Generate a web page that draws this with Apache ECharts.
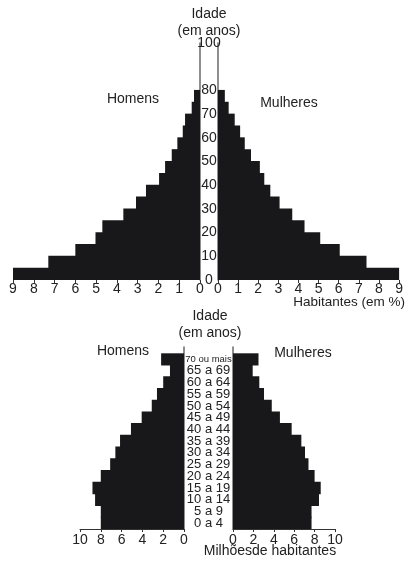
<!DOCTYPE html>
<html>
<head>
<meta charset="utf-8">
<script src="https://cdn.jsdelivr.net/npm/echarts@6.0.0/dist/echarts.min.js"></script>
<style>
  html, body { margin: 0; padding: 0; background: #fff; }
  #chart-container { width: 406px; height: 563px; }
</style>
</head>
<body>
<div id="chart-container"></div>
<script>
// top pyramid: % of inhabitants per 5-year age group (0-4 ... 95-99)
const topAges = ['0-4', '5-9', '10-14', '15-19', '20-24', '25-29', '30-34', '35-39', '40-44', '45-49',
  '50-54', '55-59', '60-64', '65-69', '70-74', '75-79', '80-84', '85-89', '90-94', '95-99'];
const topMen = [9.0, 7.3, 6.0, 5.03, 4.7, 3.69, 3.08, 2.6, 1.97, 1.68,
  1.36, 1.09, 0.83, 0.72, 0.4, 0.29, 0, 0, 0, 0];
const topWomen = [9.0, 7.38, 6.05, 5.08, 4.3, 3.69, 3.06, 2.6, 2.3, 2.08,
  1.64, 1.33, 1.1, 0.83, 0.53, 0.34, 0, 0, 0, 0];
const topTicksX = [0, 1, 2, 3, 4, 5, 6, 7, 8, 9];
const topAgeLabels = [0, 10, 20, 30, 40, 50, 60, 70, 80, 100];

// bottom pyramid: millions of inhabitants
const bottomAges = ['0 a 4', '5 a 9', '10 a 14', '15 a 19', '20 a 24', '25 a 29', '30 a 34', '35 a 39',
  '40 a 44', '45 a 49', '50 a 54', '55 a 59', '60 a 64', '65 a 69', '70 ou mais'];
const bottomMen = [8.0, 8.0, 8.55, 8.8, 8.0, 7.1, 6.6, 6.15, 5.1, 4.07, 3.1, 2.6, 2.0, 1.35, 2.2];
const bottomWomen = [7.7, 7.7, 8.43, 8.6, 8.0, 7.4, 7.06, 6.7, 5.75, 4.6, 3.8, 3.04, 2.58, 1.93, 2.5];

const FONT = 'Liberation Sans, Arial, Helvetica, sans-serif';
const TXT = '#222';
const BAR = '#18181a';
const LINE = '#6a6a6a';

const chart = echarts.init(document.getElementById('chart-container'));

function pctAxis(gridIndex, inverse) {
  return {
    type: 'value', gridIndex, min: 0, max: 9, interval: 1, inverse,
    axisLine: { show: false },
    axisTick: { show: true, length: 3, lineStyle: { color: '#333' } },
    splitLine: { show: false },
    axisLabel: {
      margin: 2, fontSize: 14, color: TXT, fontFamily: FONT,
      formatter: v => (topTicksX.includes(v) ? String(v) : '')
    }
  };
}

function milAxis(gridIndex, inverse) {
  return {
    type: 'value', gridIndex, min: 0, max: 10, interval: 2, inverse,
    axisLine: { show: true, lineStyle: { color: '#333', width: 1 } },
    axisTick: { show: true, length: 3, lineStyle: { color: '#333' } },
    splitLine: { show: false },
    axisLabel: { margin: 4, fontSize: 14, color: TXT, fontFamily: FONT }
  };
}

const hiddenCat = (gridIndex, data) => ({
  type: 'category', gridIndex, data, show: false, splitLine: { show: false }
});

// bars slightly wider than the band so neighbouring bars overlap and no seam shows
function bar(name, xi, yi, data) {
  return {
    name, type: 'bar', xAxisIndex: xi, yAxisIndex: yi, data,
    barWidth: '108%', barGap: '0%', barCategoryGap: '0%',
    itemStyle: { color: BAR }, emphasis: { disabled: true }
  };
}

const text = (x, y, str, align, size) => ({
  type: 'text', x, y,
  style: {
    text: str, fill: TXT, font: (size || 14) + 'px ' + FONT,
    textAlign: align || 'center', textVerticalAlign: 'middle'
  }
});

const option = {
  backgroundColor: '#fff',
  animation: false,
  grid: [
    { left: 13, top: 43, width: 187, height: 237 },
    { left: 218, top: 43, width: 185, height: 237 },
    { left: 80, top: 353.3, width: 104, height: 175.7 },
    { left: 233, top: 353.3, width: 102, height: 175.7 },
    { left: 184, top: 347, width: 49, height: 182 }
  ],
  xAxis: [
    pctAxis(0, true),
    pctAxis(1, false),
    milAxis(2, true),
    milAxis(3, false),
    { type: 'value', gridIndex: 4, show: false }
  ],
  yAxis: [
    hiddenCat(0, topAges),
    {
      type: 'value', gridIndex: 0, position: 'right', min: 0, max: 100, interval: 10,
      axisLine: { show: true, lineStyle: { color: LINE, width: 1.5 } },
      axisTick: { show: false },
      splitLine: { show: false },
      axisLabel: {
        margin: 9, align: 'center', fontSize: 14, color: TXT, fontFamily: FONT,
        formatter: v => (topAgeLabels.includes(v) ? String(v) : '')
      }
    },
    {
      type: 'category', gridIndex: 1, position: 'left', data: topAges,
      axisLine: { show: true, lineStyle: { color: LINE, width: 1.5 } },
      axisTick: { show: false }, axisLabel: { show: false }, splitLine: { show: false }
    },
    hiddenCat(2, bottomAges),
    {
      type: 'category', gridIndex: 3, position: 'left', data: bottomAges,
      axisLine: { show: false }, axisTick: { show: false }, splitLine: { show: false },
      axisLabel: {
        interval: 0, margin: 24.5, align: 'center', fontSize: 13, lineHeight: 12,
        color: TXT, fontFamily: FONT,
        formatter: v => (v.length > 8 ? '{s|' + v + '}' : v),
        rich: { s: { fontSize: 9.5, fontFamily: FONT, color: TXT } }
      }
    },
    {
      type: 'value', gridIndex: 4, position: 'left',
      axisLine: { show: true, onZero: false, lineStyle: { color: LINE, width: 1.5 } },
      axisTick: { show: false }, axisLabel: { show: false }, splitLine: { show: false }
    },
    {
      type: 'value', gridIndex: 4, position: 'right',
      axisLine: { show: true, onZero: false, lineStyle: { color: LINE, width: 1.5 } },
      axisTick: { show: false }, axisLabel: { show: false }, splitLine: { show: false }
    }
  ],
  series: [
    bar('Homens', 0, 0, topMen),
    bar('Mulheres', 1, 2, topWomen),
    bar('Homens', 2, 3, bottomMen),
    bar('Mulheres', 3, 4, bottomWomen)
  ],
  graphic: [
    text(209, 14, 'Idade'),
    text(209, 31, '(em anos)'),
    text(133, 99, 'Homens'),
    text(289, 103, 'Mulheres'),
    text(405, 302, 'Habitantes (em %)', 'right', 13.5),
    text(210, 316, 'Idade'),
    text(210, 333, '(em anos)'),
    text(123, 351, 'Homens'),
    text(303, 353, 'Mulheres'),
    text(270, 551, 'Milhõesde habitantes')
  ]
};

chart.setOption(option);
</script>
</body>
</html>
